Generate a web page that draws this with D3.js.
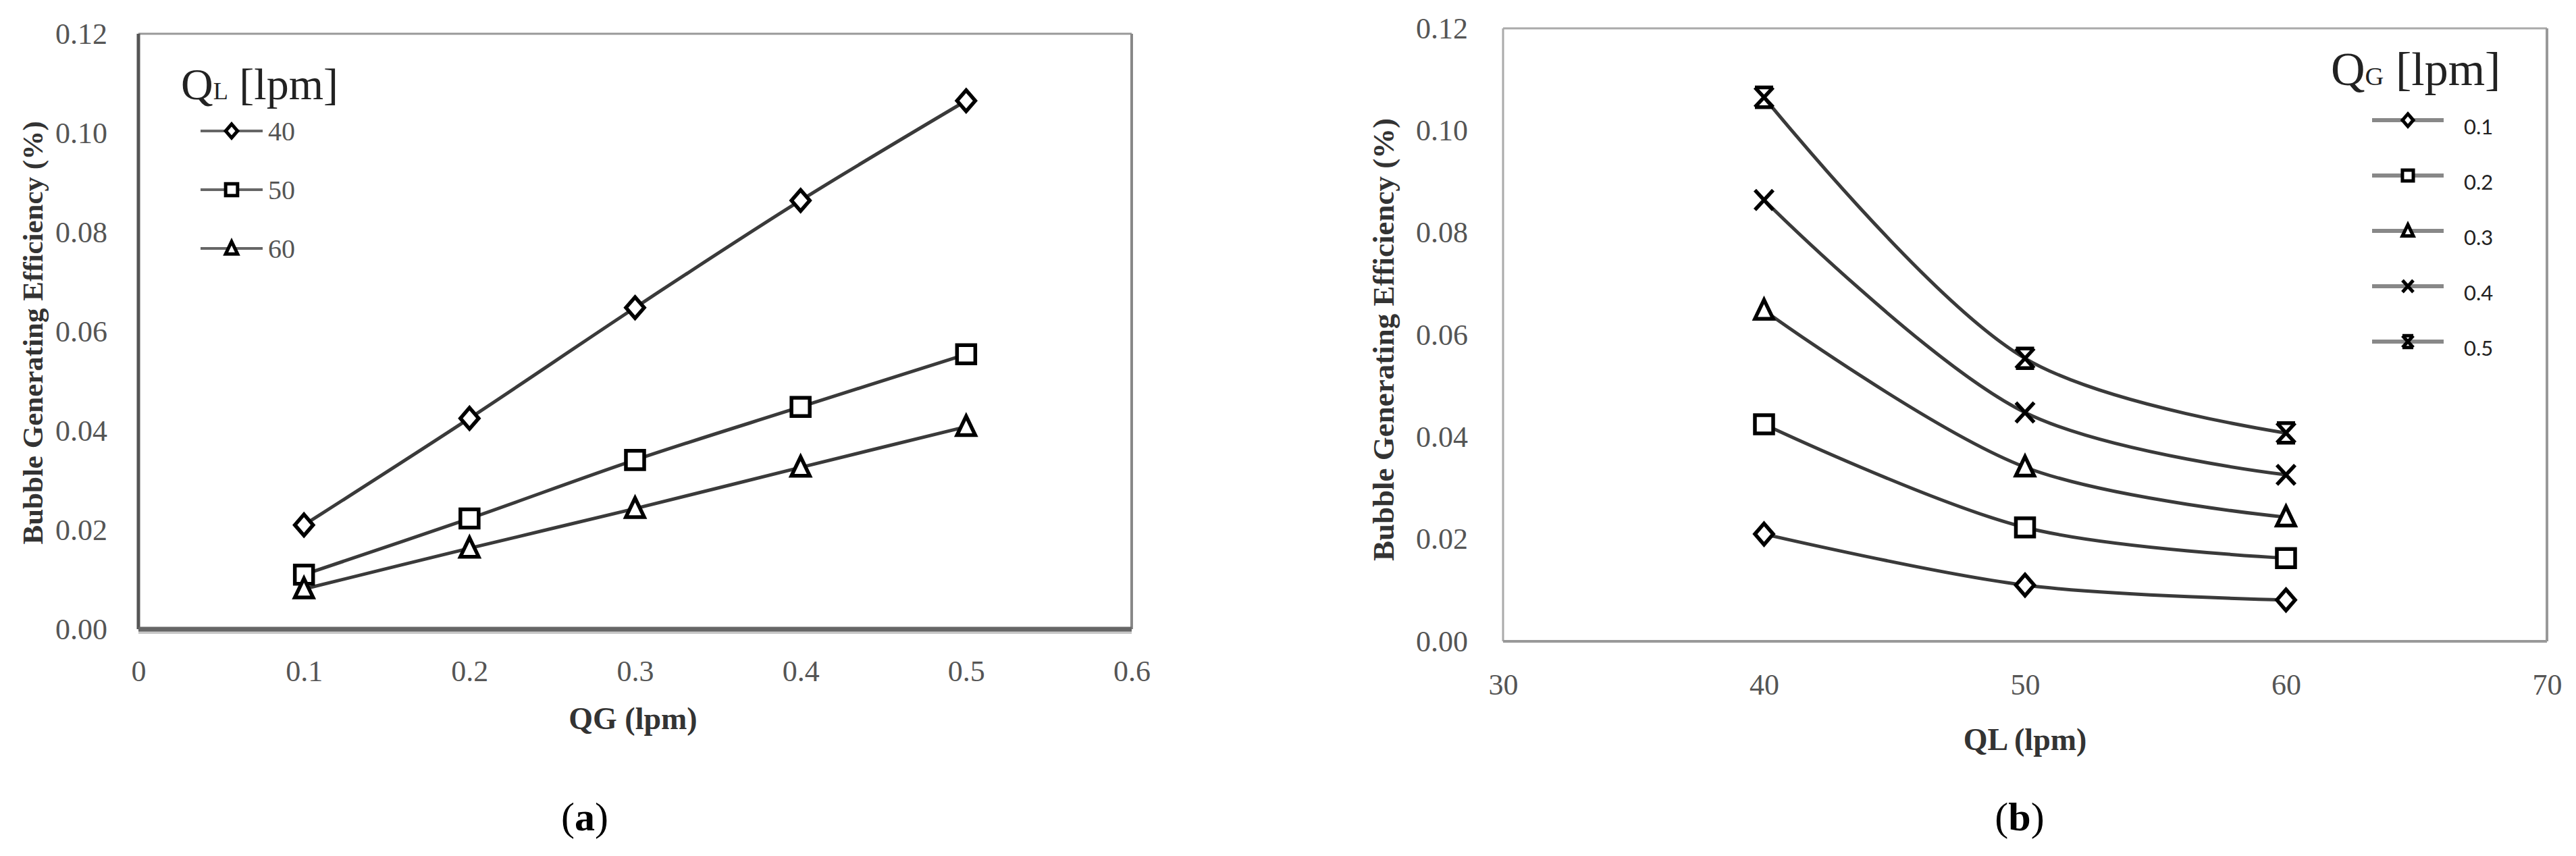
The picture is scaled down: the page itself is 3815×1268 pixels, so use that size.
<!DOCTYPE html>
<html>
<head>
<meta charset="utf-8">
<script src="https://cdn.jsdelivr.net/npm/d3@7"></script>
<style>
  html, body { margin: 0; padding: 0; background: #fff; }
</style>
</head>
<body>
<svg id="chart" width="3815" height="1268" font-family='"Liberation Serif", "DejaVu Serif", serif'></svg>
<script>
// values
const qgValues = [0.1, 0.2, 0.3, 0.4, 0.5] // gas flow (lpm)
const qlValues = [40, 50, 60] // liquid flow (lpm)

// bubble generating efficiency (%) per liquid flow, one value per gas flow
const effQL40 = [0.021, 0.0425, 0.0648, 0.0864, 0.1065]
const effQL50 = [0.011, 0.0223, 0.0341, 0.0448, 0.0554]
const effQL60 = [0.0081, 0.0163, 0.0243, 0.0326, 0.0408]

const yTicks = [0, 0.02, 0.04, 0.06, 0.08, 0.10, 0.12]
const xTicksA = [0, 0.1, 0.2, 0.3, 0.4, 0.5, 0.6]
const xTicksB = [30, 40, 50, 60, 70]

const markersA = ['diamond', 'square', 'triangle']
const markersB = ['diamond', 'square', 'triangle', 'cross', 'star']

const rows = [effQL40, effQL50, effQL60]
const serif = '"Liberation Serif", "DejaVu Serif", serif'

const seriesA = qlValues.map((ql, k) => ({
  label: String(ql),
  marker: markersA[k],
  points: qgValues.map((qg, i) => ({ x: qg, y: rows[k][i] }))
}))

const seriesB = qgValues.map((qg, i) => ({
  label: d3.format('.1f')(qg),
  marker: markersB[i],
  points: qlValues.map((ql, k) => ({ x: ql, y: rows[k][i] }))
}))

// marker shapes, s = scale
function markerPath (type, s) {
  const p = d3.path()
  if (type === 'diamond') {
    p.moveTo(0, -15 * s); p.lineTo(13 * s, 0); p.lineTo(0, 15 * s); p.lineTo(-13 * s, 0); p.closePath()
  } else if (type === 'square') {
    p.rect(-13 * s, -13 * s, 26 * s, 26 * s)
  } else if (type === 'triangle') {
    p.moveTo(0, -15 * s); p.lineTo(13 * s, 12 * s); p.lineTo(-13 * s, 12 * s); p.closePath()
  } else if (type === 'cross') {
    p.moveTo(-13 * s, -14 * s); p.lineTo(13 * s, 14 * s)
    p.moveTo(13 * s, -14 * s); p.lineTo(-13 * s, 14 * s)
  } else if (type === 'star') {
    p.moveTo(-13 * s, -14 * s); p.lineTo(13 * s, 14 * s)
    p.moveTo(13 * s, -14 * s); p.lineTo(-13 * s, 14 * s)
    p.moveTo(-13 * s, -14 * s); p.lineTo(13 * s, -14 * s)
    p.moveTo(-13 * s, 14 * s); p.lineTo(13 * s, 14 * s)
  }
  return p.toString()
}

const svg = d3.select('#chart')

function drawPanel (cfg) {
  const { x, y, xTicks, xFormat, series } = cfg
  const g = svg.append('g')
  const [x0, x1] = x.range()
  const [yb, yt] = y.range()

  // frame
  g.append('line').attr('x1', x0).attr('x2', x1).attr('y1', yt).attr('y2', yt)
    .attr('stroke', cfg.frame.top).attr('stroke-width', 3)
  g.append('line').attr('x1', x1).attr('x2', x1).attr('y1', yt).attr('y2', yb)
    .attr('stroke', cfg.frame.right).attr('stroke-width', 4)
  g.append('line').attr('x1', x0).attr('x2', x0).attr('y1', yt).attr('y2', yb)
    .attr('stroke', cfg.frame.left).attr('stroke-width', cfg.frame.leftW)
  if (cfg.frame.shadow) {
    g.append('line').attr('x1', x0).attr('x2', x1).attr('y1', yb + 5).attr('y2', yb + 5)
      .attr('stroke', '#c8c8c8').attr('stroke-width', 4)
  }
  g.append('line').attr('x1', x0).attr('x2', x1).attr('y1', yb).attr('y2', yb)
    .attr('stroke', cfg.frame.bottom).attr('stroke-width', cfg.frame.bottomW)

  // y axis
  g.append('g')
    .attr('transform', 'translate(' + x0 + ',0)')
    .call(d3.axisLeft(y).tickValues(yTicks).tickSize(0).tickPadding(cfg.yPad).tickFormat(d3.format('.2f')))
    .call(a => a.select('.domain').remove())
    .attr('font-family', serif).attr('font-size', 44)
    .selectAll('text').attr('fill', '#555')

  // x axis
  g.append('g')
    .attr('transform', 'translate(0,' + yb + ')')
    .call(d3.axisBottom(x).tickValues(xTicks).tickSize(0).tickPadding(cfg.xPad).tickFormat(xFormat))
    .call(a => a.select('.domain').remove())
    .attr('font-family', serif).attr('font-size', 44)
    .selectAll('text').attr('fill', '#555')

  // axis titles
  g.append('text')
    .attr('transform', 'translate(' + cfg.yTitle[0] + ',' + cfg.yTitle[1] + ') rotate(-90)')
    .attr('text-anchor', 'middle').attr('dominant-baseline', 'central')
    .attr('font-size', cfg.yTitleSize).attr('font-weight', 'bold').attr('fill', '#333')
    .text('Bubble Generating Efficiency (%)')

  g.append('text')
    .attr('x', (x0 + x1) / 2 + cfg.xTitleShift).attr('y', cfg.xTitleY)
    .attr('text-anchor', 'middle').attr('dominant-baseline', 'central')
    .attr('font-size', 46).attr('font-weight', 'bold').attr('fill', '#333')
    .text(cfg.xTitle)

  // caption
  const cap = g.append('text')
    .attr('x', cfg.caption[0]).attr('y', cfg.caption[1])
    .attr('text-anchor', 'middle').attr('dominant-baseline', 'central')
    .attr('font-size', 60).attr('fill', '#000')
  cap.append('tspan').text('(')
  cap.append('tspan').attr('font-weight', 'bold').text(cfg.captionLetter)
  cap.append('tspan').text(')')

  // lines + markers
  const line = d3.line()
    .x(d => x(d.x))
    .y(d => y(d.y))
    .curve(d3.curveCatmullRom)

  series.forEach(s => {
    g.append('path')
      .datum(s.points)
      .attr('d', line)
      .attr('fill', 'none')
      .attr('stroke', '#3a3a3a')
      .attr('stroke-width', 5)
  })
  series.forEach(s => {
    g.selectAll(null)
      .data(s.points)
      .enter().append('path')
      .attr('transform', d => 'translate(' + x(d.x) + ',' + y(d.y) + ')')
      .attr('d', markerPath(s.marker, 1.04))
      .attr('fill', '#fff')
      .attr('stroke', '#000')
      .attr('stroke-width', 5.5)
      .attr('stroke-linejoin', 'miter')
  })

  // legend
  const lg = cfg.legend
  const title = g.append('text')
    .attr('x', lg.x).attr('y', lg.titleY)
    .attr('font-size', lg.titleSize).attr('fill', '#222')
  title.append('tspan').text('Q')
  title.append('tspan').attr('font-size', lg.titleSize * 0.55).text(lg.sub)
  title.append('tspan').text(' [lpm]')

  series.forEach((s, i) => {
    const ly = lg.y0 + i * lg.step
    const row = g.append('g').attr('transform', 'translate(' + lg.lineX + ',' + ly + ')')
    row.append('line').attr('x1', 0).attr('x2', lg.lineW).attr('y1', 0).attr('y2', 0)
      .attr('stroke', lg.lineColor).attr('stroke-width', lg.lineStroke)
    row.append('path')
      .attr('transform', 'translate(' + lg.lineW / 2 + ',0)')
      .attr('d', markerPath(s.marker, lg.markerScale))
      .attr('fill', '#fff').attr('stroke', '#000').attr('stroke-width', 5)
    row.append('text')
      .attr('x', lg.lineW + lg.labelGap).attr('y', lg.labelDy)
      .attr('dominant-baseline', 'central')
      .attr('font-family', lg.labelFont).attr('font-size', lg.labelSize)
      .attr('fill', lg.labelColor)
      .text(s.label)
  })
}

drawPanel({
  x: d3.scaleLinear().domain([0, 0.6]).range([205, 1676]),
  y: d3.scaleLinear().domain([0, 0.12]).range([932, 50]),
  xTicks: xTicksA,
  xFormat: d => d === 0 ? '0' : d3.format('.1f')(d),
  series: seriesA,
  yPad: 46,
  xPad: 46,
  frame: { top: '#999', right: '#888', left: '#555', leftW: 5, bottom: '#666', bottomW: 7, shadow: true },
  yTitle: [48, 493],
  yTitleSize: 43,
  xTitle: 'QG (lpm)',
  xTitleShift: -3,
  xTitleY: 1064,
  caption: [866, 1210],
  captionLetter: 'a',
  legend: {
    x: 268, titleY: 147, titleSize: 66, sub: 'L',
    lineX: 297, lineW: 92, y0: 194, step: 87,
    lineColor: '#666', lineStroke: 4, markerScale: 0.68,
    labelGap: 8, labelDy: 0, labelFont: serif, labelSize: 40, labelColor: '#555'
  }
})

drawPanel({
  x: d3.scaleLinear().domain([30, 70]).range([2226, 3772]),
  y: d3.scaleLinear().domain([0, 0.12]).range([950, 42]),
  xTicks: xTicksB,
  xFormat: d3.format('d'),
  series: seriesB,
  yPad: 52,
  xPad: 48,
  frame: { top: '#aaa', right: '#999', left: '#aaa', leftW: 3, bottom: '#999', bottomW: 4, shadow: false },
  yTitle: [2049, 503],
  yTitleSize: 45,
  xTitle: 'QL (lpm)',
  xTitleShift: 0,
  xTitleY: 1095,
  caption: [2991, 1210],
  captionLetter: 'b',
  legend: {
    x: 3452, titleY: 126, titleSize: 70, sub: 'G',
    lineX: 3513, lineW: 106, y0: 178, step: 82,
    lineColor: '#888', lineStroke: 6, markerScale: 0.62,
    labelGap: 30, labelDy: 9, labelFont: 'Lato, "Open Sans", sans-serif', labelSize: 31, labelColor: '#222'
  }
})
</script>
</body>
</html>
